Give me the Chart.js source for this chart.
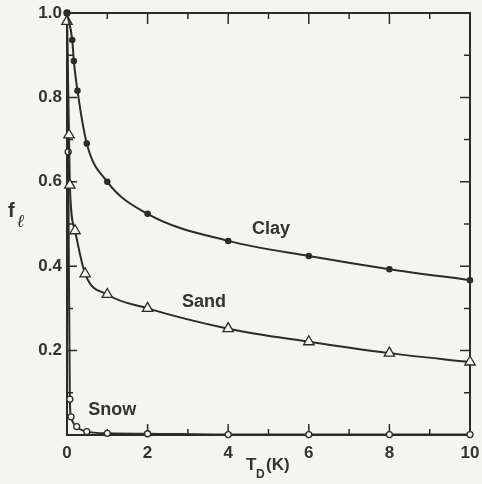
<!DOCTYPE html>
<html>
<head>
<meta charset="utf-8">
<script src="https://cdn.jsdelivr.net/npm/chart.js@4"></script>
<style>
  html, body { margin: 0; padding: 0; background: #f4f4f1; }
  #chart { display: block; }
</style>
</head>
<body>
<canvas id="chart" width="482" height="484"></canvas>
<script>
// values: T_D (K) against liquid fraction f
const clayT = [0, 0.13, 0.17, 0.26, 0.49, 1, 2, 4, 6, 8, 10];
const clayF = [1.0, 0.936, 0.886, 0.816, 0.691, 0.600, 0.524, 0.460, 0.424, 0.393, 0.367];
const sandT = [0, 0.05, 0.07, 0.2, 0.45, 1, 2, 4, 6, 8, 10];
const sandF = [0.98, 0.711, 0.592, 0.484, 0.382, 0.333, 0.300, 0.252, 0.221, 0.194, 0.173];
const snowT = [0, 0.03, 0.07, 0.1, 0.24, 0.49, 1, 2, 4, 6, 8, 10];
const snowF = [1.0, 0.671, 0.085, 0.043, 0.020, 0.008, 0.004, 0.003, 0.001, 0.001, 0.001, 0.001];
const seriesNames = ['Clay', 'Sand', 'Snow'];

const ink = '#2b2b2b';
const paper = '#f4f4f1';
const fontFamily = '"Liberation Sans", Arial, sans-serif';

// where each curve name sits, in data units
const nameSpots = [[5.06, 0.488], [3.40, 0.315], [1.12, 0.059]];

function toPoints(xs, ys) {
  return xs.map((t, i) => ({ x: t, y: ys[i] }));
}

const frameTicks = {
  id: 'frameTicks',
  beforeDatasetsDraw(chart) {
    const { ctx, chartArea: a, scales: { x, y } } = chart;
    ctx.save();
    ctx.strokeStyle = ink;
    ctx.lineWidth = 2;
    ctx.strokeRect(a.left, a.top, a.right - a.left, a.bottom - a.top);
    ctx.lineWidth = 1.5;
    ctx.beginPath();
    for (let v = 0; v <= 10; v++) {
      const px = x.getPixelForValue(v);
      const len = v % 2 ? 6 : 11;
      ctx.moveTo(px, a.bottom); ctx.lineTo(px, a.bottom - len);
      ctx.moveTo(px, a.top); ctx.lineTo(px, a.top + len);
    }
    for (let i = 0; i <= 10; i++) {
      const py = y.getPixelForValue(i / 10);
      const len = i % 2 ? 6 : 10;
      ctx.moveTo(a.left, py); ctx.lineTo(a.left + len, py);
      ctx.moveTo(a.right, py); ctx.lineTo(a.right - len, py);
    }
    ctx.stroke();
    ctx.restore();
  },
  afterDraw(chart) {
    const { ctx, scales: { x, y } } = chart;
    ctx.save();
    ctx.fillStyle = '#333';
    ctx.textAlign = 'center';
    ctx.textBaseline = 'middle';
    ctx.font = 'bold 18px ' + fontFamily;
    seriesNames.forEach((name, i) => {
      ctx.fillText(name, x.getPixelForValue(nameSpots[i][0]), y.getPixelForValue(nameSpots[i][1]));
    });

    // y title: f with script-l subscript
    ctx.textAlign = 'left';
    ctx.textBaseline = 'alphabetic';
    ctx.font = 'bold 20px ' + fontFamily;
    ctx.fillText('f', 8, 217);
    ctx.font = 'italic bold 18px "DejaVu Serif", serif';
    ctx.fillText('\u2113', 17, 227);

    // x title: T_D(K)
    ctx.font = 'bold 17px ' + fontFamily;
    ctx.fillText('T', 246, 470);
    ctx.font = 'bold 12px ' + fontFamily;
    ctx.fillText('D', 256, 478);
    ctx.font = 'bold 17px ' + fontFamily;
    ctx.fillText('(K)', 266, 470);
    ctx.restore();
  }
};

const lineStyle = {
  borderColor: ink,
  borderWidth: 2,
  cubicInterpolationMode: 'monotone',
  pointBorderColor: ink,
  pointBorderWidth: 1.3,
  clip: 8
};

new Chart(document.getElementById('chart').getContext('2d'), {
  type: 'line',
  data: {
    datasets: [
      Object.assign({
        label: seriesNames[0],
        data: toPoints(clayT, clayF),
        pointStyle: 'circle',
        pointRadius: 2.6,
        pointBackgroundColor: ink
      }, lineStyle),
      Object.assign({
        label: seriesNames[1],
        data: toPoints(sandT, sandF),
        pointStyle: 'triangle',
        pointRadius: 6,
        pointBackgroundColor: paper
      }, lineStyle),
      Object.assign({
        label: seriesNames[2],
        data: toPoints(snowT, snowF),
        pointStyle: 'circle',
        pointRadius: 3,
        pointBackgroundColor: paper
      }, lineStyle)
    ]
  },
  options: {
    responsive: false,
    animation: false,
    layout: { padding: { top: 13, right: 12, left: 0, bottom: 0 } },
    plugins: {
      legend: { display: false },
      tooltip: { enabled: false }
    },
    scales: {
      x: {
        type: 'linear',
        min: 0,
        max: 10,
        grid: { display: false, drawTicks: false },
        border: { display: false },
        ticks: {
          stepSize: 1,
          autoSkip: false,
          maxRotation: 0,
          padding: 8,
          color: '#333',
          font: { family: fontFamily, size: 17, weight: 'bold' },
          callback: v => (v % 2 === 0 ? String(v) : '')
        },
        afterFit: s => { s.height = 49; s.paddingLeft = 0; s.paddingRight = 0; }
      },
      y: {
        type: 'linear',
        min: 0,
        max: 1,
        grid: { display: false, drawTicks: false },
        border: { display: false },
        ticks: {
          stepSize: 0.1,
          autoSkip: false,
          padding: 5,
          color: '#333',
          font: { family: fontFamily, size: 17, weight: 'bold' },
          callback: v => {
            const r = Math.round(v * 10);
            return r > 0 && r % 2 === 0 ? (r / 10).toFixed(1) : '';
          }
        },
        afterFit: s => { s.width = 67; s.paddingTop = 0; s.paddingBottom = 0; }
      }
    }
  },
  plugins: [frameTicks]
});
</script>
</body>
</html>
